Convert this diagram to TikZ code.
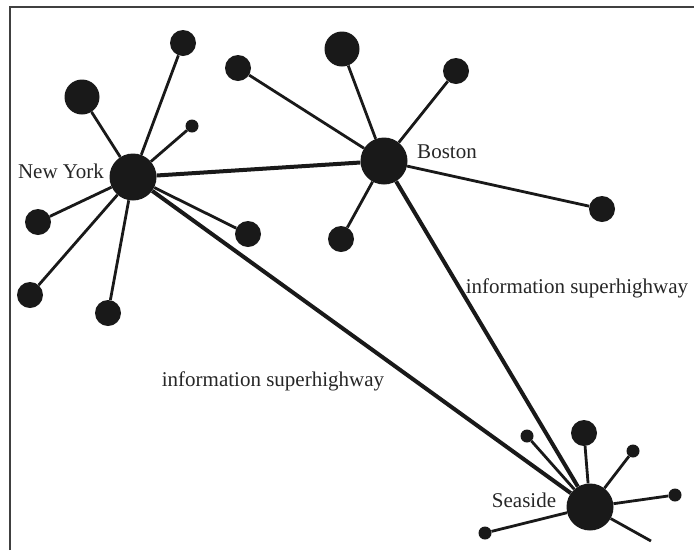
\documentclass[tikz,border=0pt]{standalone}
\usepackage{fontspec}
\setmainfont{Liberation Serif}
\usetikzlibrary{positioning}

\begin{document}
\begin{tikzpicture}[x=1pt, y=-1pt]
	\useasboundingbox (0, 0) rectangle (694, 550);
	\draw [line width=1.6pt, black!75] (10, 550) -- (10, 7) -- (694, 7);
	\begin{scope}
		\tikzstyle{every node}=[circle, fill=black!90, inner sep=0pt, minimum size=26pt]
		\tikzstyle{hub}=[minimum size=47pt]
		\tikzstyle{big}=[minimum size=35pt]
		\tikzstyle{tiny}=[minimum size=13pt]
		\tikzstyle{spoke}=[line width=2.8pt, black!90]
		\tikzstyle{highway}=[line width=4pt, black!90]

		\node [hub] (ny) at (133, 177) {};
		\node (ny1) at (183, 43) {};
		\node [big] (ny2) at (82, 97) {};
		\node [tiny] (ny3) at (192, 126) {};
		\node (ny4) at (38, 222) {};
		\node (ny5) at (30, 295) {};
		\node (ny6) at (108, 313) {};
		\node (ny7) at (248, 234) {};

		\node [hub] (bos) at (384, 161) {};
		\node (bos1) at (238, 68) {};
		\node [big] (bos2) at (342, 49) {};
		\node (bos3) at (456, 71) {};
		\node (bos4) at (602, 209) {};
		\node (bos5) at (341, 239) {};

		\node [hub] (sea) at (590, 507) {};
		\node (sea1) at (584, 433) {};
		\node [tiny] (sea2) at (527, 436) {};
		\node [tiny] (sea3) at (633, 451) {};
		\node [tiny] (sea4) at (675, 495) {};
		\node [tiny] (sea5) at (485, 533) {};
		\coordinate (sea6) at (651, 541);

		\foreach \i in {1,...,7}
			\draw [spoke] (ny) to (ny\i);
		\foreach \i in {1,...,5}
			\draw [spoke] (bos) to (bos\i);
		\foreach \i in {1,...,6}
			\draw [spoke] (sea) to (sea\i);

		\draw [highway] (ny) to (bos);
		\draw [highway] (ny) to (sea);
		\draw [highway] (bos) to (sea);
	\end{scope}
	\begin{scope}
		\tikzstyle{every node}=[align=center, inner sep=1pt, text=black!85, font=\fontsize{21}{25}\selectfont]
		\node (nylab) at (61, 171) {New York};
		\node (boslab) at (447, 152) {Boston};
		\node (sealab) at (524, 500) {Seaside};
		\node (hw1) at (273, 381) {information superhighway};
		\node (hw2) at (577, 288) {information superhighway};
	\end{scope}
\end{tikzpicture}
\end{document}
